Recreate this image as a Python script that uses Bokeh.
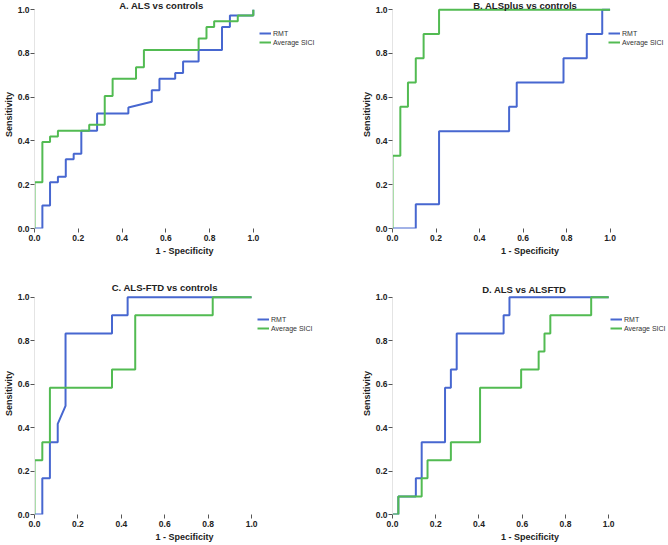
from bokeh.plotting import figure
from bokeh.layouts import gridplot
from bokeh.models import (Range1d, FixedTicker, PrintfTickFormatter, Label,
                          Legend, LegendItem)
from bokeh.embed import file_html
from bokeh.resources import INLINE

# ---------------- data (ROC curve vertices) -------------
TICKS = [0.0, 0.2, 0.4, 0.6, 0.8, 1.0]
SERIES = ["RMT", "Average SICI"]

title_a = "A. ALS vs controls"
a_rmt_x = [0, .036, .036, .071, .071, .107, .107, .143, .143, .179, .179, .214, .214,
           .286, .286, .429, .429, .536, .536, .571, .571, .643, .643, .679, .679,
           .75, .75, .857, .857, .893, .893, 1, 1]
a_rmt_y = [0, 0, .105, .105, .211, .211, .237, .237, .316, .316, .342, .342, .447,
           .447, .526, .526, .553, .579, .632, .632, .684, .684, .711, .711, .763,
           .763, .816, .816, .921, .921, .974, .974, 1]
a_sici_x = [0, 0, .036, .036, .071, .071, .107, .107, .25, .25, .321, .321, .357, .357,
            .464, .464, .5, .5, .75, .75, .786, .786, .821, .821, .929, .929, 1, 1]
a_sici_y = [0, .211, .211, .395, .395, .421, .421, .447, .447, .474, .474, .605, .605,
            .684, .684, .737, .737, .816, .816, .868, .868, .921, .921, .947, .947,
            .974, .974, 1]

title_b = "B. ALSplus vs controls"
b_rmt_x = [0, .107, .107, .214, .214, .536, .536, .571, .571, .786, .786, .893, .893,
           .964, .964, 1]
b_rmt_y = [0, 0, .111, .111, .444, .444, .556, .556, .667, .667, .778, .778, .889,
           .889, 1, 1]
b_sici_x = [0, 0, .036, .036, .071, .071, .107, .107, .143, .143, .214, .214, 1]
b_sici_y = [0, .333, .333, .556, .556, .667, .667, .778, .778, .889, .889, 1, 1]

title_c = "C. ALS-FTD vs controls"
c_rmt_x = [0, .036, .036, .071, .071, .107, .107, .143, .143, .357, .357, .429, .429, 1]
c_rmt_y = [0, 0, .167, .167, .333, .333, .417, .5, .833, .833, .917, .917, 1, 1]
c_sici_x = [0, 0, .036, .036, .071, .071, .357, .357, .464, .464, .821, .821, 1]
c_sici_y = [0, .25, .25, .333, .333, .583, .583, .667, .667, .917, .917, 1, 1]

title_d = "D. ALS vs ALSFTD"
d_rmt_x = [0, .027, .027, .108, .108, .135, .135, .243, .243, .270, .270, .297, .297,
           .514, .514, .541, .541, 1]
d_rmt_y = [0, 0, .083, .083, .167, .167, .333, .333, .583, .583, .667, .667, .833,
           .833, .917, .917, 1, 1]
d_sici_x = [0, .027, .027, .135, .135, .162, .162, .270, .270, .405, .405, .595, .595,
            .676, .676, .703, .703, .730, .730, .919, .919, 1]
d_sici_y = [0, 0, .083, .083, .167, .167, .25, .25, .333, .333, .583, .583, .667, .667,
            .75, .75, .833, .833, .917, .917, 1, 1]

# ---------------- styling ----------------
BLUE = "#4767d0"
GREEN = "#52bb52"
FONT = "Liberation Sans"


def make_panel(title, rx, ry, sx, sy, w, h, mbl, mbb, x_end, y_end,
               title_x, title_off, leg_loc):
    p = figure(width=w, height=h, output_backend="svg", toolbar_location=None,
               x_range=Range1d(0, x_end), y_range=Range1d(0, y_end),
               min_border_left=mbl, min_border_right=0,
               min_border_top=0, min_border_bottom=mbb)
    p.xgrid.visible = False
    p.ygrid.visible = False
    p.outline_line_color = None
    p.background_fill_color = "white"
    p.border_fill_color = "white"

    for ax in (p.xaxis[0], p.yaxis[0]):
        ax.ticker = FixedTicker(ticks=TICKS)
        ax.formatter = PrintfTickFormatter(format="%.1f")
        ax.bounds = (0, 1)
        ax.minor_tick_line_color = None
        ax.major_tick_in = 0
        ax.major_tick_out = 4
        ax.major_tick_line_color = "#555555"
        ax.major_label_text_font = FONT
        ax.major_label_text_font_style = "bold"
        ax.major_label_text_font_size = "8.5px"
        ax.major_label_text_color = "#222222"
        ax.major_label_standoff = 2
        ax.axis_label_text_font = FONT
        ax.axis_label_text_font_style = "bold"
        ax.axis_label_text_font_size = "9px"
        ax.axis_label_text_color = "#222222"
        ax.axis_label_standoff = 2
    p.xaxis.axis_label = "1 - Specificity"
    p.yaxis.axis_label = "Sensitivity"
    p.yaxis.major_label_standoff = 1
    p.yaxis.axis_label_standoff = 1
    p.xaxis.axis_line_color = None
    p.yaxis.axis_line_color = "#e4e4e4"

    r1 = p.line(rx, ry, line_color=BLUE, line_width=2)
    r2 = p.line(sx, sy, line_color=GREEN, line_width=2)

    legend = Legend(items=[LegendItem(label=SERIES[0], renderers=[r1]),
                           LegendItem(label=SERIES[1], renderers=[r2])],
                    location=leg_loc,
                    border_line_alpha=0, background_fill_alpha=0,
                    padding=0, margin=0, spacing=1,
                    glyph_width=12, glyph_height=8, label_height=8,
                    label_standoff=2,
                    label_text_font=FONT, label_text_font_size="7px",
                    label_text_color="#333333")
    p.add_layout(legend)

    p.add_layout(Label(x=title_x, y=1.0, y_offset=title_off, text=title,
                       text_align="center", text_baseline="alphabetic",
                       text_font=FONT, text_font_style="bold",
                       text_font_size="9.5px", text_color="#222222"))
    return p


pa = make_panel(title_a, a_rmt_x, a_rmt_y, a_sici_x, a_sici_y,
                334, 272, 32, 44, 1.371, 1.042, 0.58, 4.5, (225, 182))
pb = make_panel(title_b, b_rmt_x, b_rmt_y, b_sici_x, b_sici_y,
                333, 272, 55, 44, 1.264, 1.042, 0.61, 4.5, (216, 182))
pc = make_panel(title_c, c_rmt_x, c_rmt_y, c_sici_x, c_sici_y,
                334, 272, 34, 30, 1.382, 1.1135, 0.6, 10, (223, 182))
pd = make_panel(title_d, d_rmt_x, d_rmt_y, d_sici_x, d_sici_y,
                333, 272, 58, 30, 1.272, 1.1135, 0.61, 7.5, (218, 182))

grid = gridplot([[pa, pb], [pc, pd]], toolbar_location=None)

open("out.html", "w").write(file_html(grid, INLINE))
